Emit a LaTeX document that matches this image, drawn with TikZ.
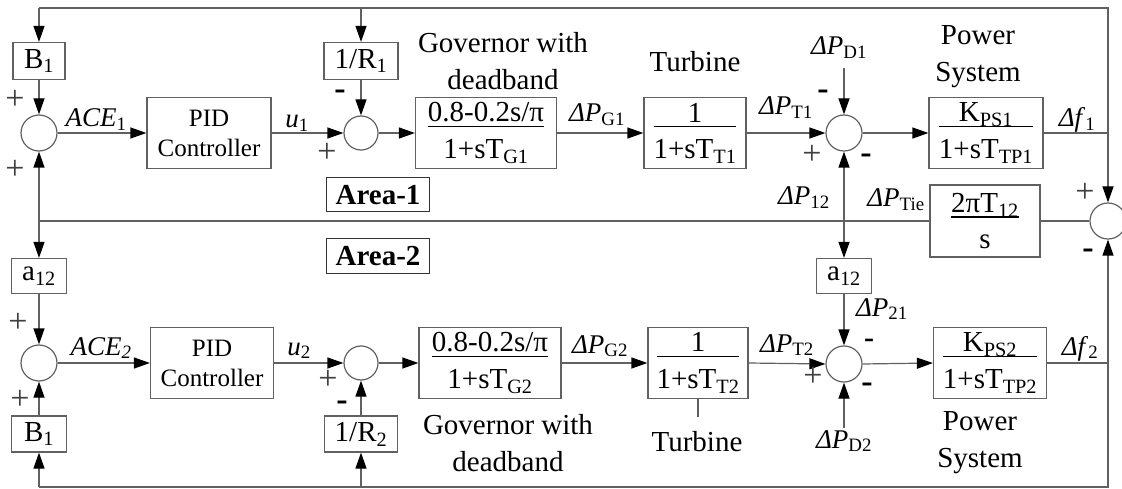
\documentclass[tikz,border=0pt]{standalone}
\usepackage{fontspec}
\setmainfont{Liberation Serif}
\usetikzlibrary{arrows.meta}
\setlength{\arrayrulewidth}{1.3pt}
\newcommand{\fr}[2]{{\renewcommand{\arraystretch}{0}\begin{tabular}{@{}c@{}}\raisebox{0pt}[\height][4pt]{#1}\\\hline\rule{0pt}{31pt}#2\end{tabular}}}
\newcommand{\dP}[1]{\textit{ΔP}\textsubscript{#1}}
\definecolor{lc}{gray}{0.38}
\tikzset{
  ln/.style={draw=lc, line width=1.2pt},
  arr/.style={ln, -{Triangle[length=16pt,width=11pt,color=black]}},
  blk/.style={draw=lc, line width=1.2pt, inner sep=0pt, align=center, font=\fontsize{29}{33}\selectfont},
  sumc/.style={circle, draw=lc, line width=1.2pt, minimum size=36pt, inner sep=0pt},
  lbl/.style={font=\fontsize{27}{30}\selectfont, inner sep=0pt},
  txt/.style={font=\fontsize{29}{37}\selectfont, align=center, inner sep=0pt},
  pls/.style={font=\fontsize{34}{36}\selectfont, inner sep=0pt, text=black!75},
  mns/.style={font=\fontsize{34}{36}\bfseries\selectfont, inner sep=0pt},
  areab/.style={draw=black!80, line width=1pt, inner sep=0pt, minimum width=103pt, minimum height=34pt, font=\fontsize{29}{31}\bfseries\selectfont}
}
\begin{document}
\begin{tikzpicture}[x=1pt,y=-1pt]
\useasboundingbox (0,0) rectangle (1122,489);

% ---------------- Area 1 ----------------
\node[blk, minimum width=52pt, minimum height=37pt] (B1) at (39,61) {B\textsubscript{1}};
\node[sumc] (s1) at (39,133) {};
\node[blk, minimum width=124pt, minimum height=71pt, font=\fontsize{25}{30}\selectfont] (pid1) at (209,133) {PID\\Controller};
\node[sumc, minimum size=34pt] (s2) at (361,133) {};
\node[blk, minimum width=74pt, minimum height=37pt] (R1) at (361,61) {1/R\textsubscript{1}};
\node[blk, minimum width=141pt, minimum height=71pt] (g1) at (486,133) {\fr{0.8-0.2s/π}{1+sT\textsubscript{G1}}};
\node[blk, minimum width=102pt, minimum height=71pt] (t1) at (695,133) {\fr{1}{1+sT\textsubscript{T1}}};
\node[sumc] (s3) at (844,133) {};
\node[blk, minimum width=114pt, minimum height=71pt] (p1) at (986,133) {\fr{K\textsubscript{PS1}}{1+sT\textsubscript{TP1}}};

\node[txt] (gt1) at (503,61) {Governor with\\deadband};
\node[txt] (tt1) at (695,62) {Turbine};
\node[txt] (pt1) at (978,57) {Power\\System};

% ---------------- Tie line ----------------
\node[sumc] (s5) at (1108,221) {};
\node[blk, minimum width=110pt, minimum height=72pt] (tie) at (985,221) {\fr{2πT\textsubscript{12}}{s}};
\node[areab] (ar1) at (378,195) {Area-1};
\node[areab] (ar2) at (378,256) {Area-2};

% ---------------- Area 2 ----------------
\node[blk, minimum width=55pt, minimum height=35pt] (a1) at (39,276) {a\textsubscript{12}};
\node[sumc] (s4) at (39,363) {};
\node[blk, minimum width=55pt, minimum height=36pt] (B2) at (39,434) {B\textsubscript{1}};
\node[blk, minimum width=123pt, minimum height=71pt, font=\fontsize{25}{30}\selectfont] (pid2) at (212,363) {PID\\Controller};
\node[sumc, minimum size=34pt] (s6) at (361,363) {};
\node[blk, minimum width=73pt, minimum height=36pt] (R2) at (361,434) {1/R\textsubscript{2}};
\node[blk, minimum width=142pt, minimum height=71pt] (g2) at (490,363) {\fr{0.8-0.2s/π}{1+sT\textsubscript{G2}}};
\node[blk, minimum width=100pt, minimum height=71pt] (t2) at (698,363) {\fr{1}{1+sT\textsubscript{T2}}};
\node[blk, minimum width=55pt, minimum height=35pt] (a2) at (844,276) {a\textsubscript{12}};
\node[sumc] (s7) at (844,364) {};
\node[blk, minimum width=113pt, minimum height=71pt] (p2) at (990,363) {\fr{K\textsubscript{PS2}}{1+sT\textsubscript{TP2}}};

\node[txt] (gt2) at (508,443) {Governor with\\deadband};
\node[txt] (tt2) at (697,442) {Turbine};
\node[txt] (pt2) at (980,443) {Power\\System};

% ---------------- coordinates ----------------
\coordinate (jr1) at (1108,133);
\coordinate (tr) at (1108,8);
\coordinate (tl) at (39,8);
\coordinate (tm) at (361,8);
\coordinate (jl) at (39,221);
\coordinate (jm) at (844,221);
\coordinate (jr2) at (1108,363);
\coordinate (br) at (1108,487);
\coordinate (bl) at (39,487);
\coordinate (bm) at (361,487);
\coordinate (d1) at (844,68);
\coordinate (d2) at (844,428);
\coordinate (tk) at (698,417);

% ---------------- connectors area 1 ----------------
\draw[ln] (p1.east) -- (jr1) -- (tr) -- (tl);
\draw[arr] (tl) -- (B1.north);
\draw[arr] (tm) -- (R1.north);
\draw[arr] (jr1) -- (s5.north);
\draw[arr] (B1.south) -- (s1.north);
\draw[arr] (R1.south) -- (s2.north);
\draw[arr] (s1.east) -- (pid1.west);
\draw[arr] (pid1.east) -- (s2.west);
\draw[arr] (s2.east) -- (g1.west);
\draw[arr] (g1.east) -- (t1.west);
\draw[arr] (t1.east) -- (s3.west);
\draw[arr] (s3.east) -- (p1.west);
\draw[arr] (d1) -- (s3.north);

% ---------------- tie connectors ----------------
\draw[ln] (s5.west) -- (tie.east);
\draw[ln] (tie.west) -- (jl);
\draw[arr] (jl) -- (s1.south);
\draw[arr] (jl) -- (a1.north);
\draw[arr] (jm) -- (s3.south);
\draw[arr] (jm) -- (a2.north);

% ---------------- connectors area 2 ----------------
\draw[ln] (p2.east) -- (jr2) -- (br) -- (bl);
\draw[arr] (bl) -- (B2.south);
\draw[arr] (bm) -- (R2.south);
\draw[arr] (jr2) -- (s5.south);
\draw[arr] (a1.south) -- (s4.north);
\draw[arr] (B2.north) -- (s4.south);
\draw[arr] (R2.north) -- (s6.south);
\draw[arr] (s4.east) -- (pid2.west);
\draw[arr] (pid2.east) -- (s6.west);
\draw[arr] (s6.east) -- (g2.west);
\draw[arr] (g2.east) -- (t2.west);
\draw[arr] (t2.east) -- (s7.west);
\draw[arr] (s7.east) -- (p2.west);
\draw[arr] (a2.south) -- (s7.north);
\draw[arr] (d2) -- (s7.south);
\draw[ln] (t2.south) -- (tk);

% ---------------- signal labels ----------------
\node[lbl, anchor=base] at (96,127) {\textit{ACE}\textsubscript{1}};
\node[lbl, anchor=base] at (297,128) {\textit{u}\textsubscript{1}};
\node[lbl, anchor=base] at (597,122) {\dP{G1}};
\node[lbl, anchor=base] at (786,115) {\dP{T1}};
\node[lbl, anchor=base] at (839,55) {\dP{D1}};
\node[lbl, anchor=base] at (1077,127) {\textit{Δf}\textsubscript{1}};
\node[lbl, anchor=base] at (804,205) {\dP{12}};
\node[lbl, anchor=base] at (896,207) {\dP{Tie}};

\node[lbl, anchor=base] at (101,355) {\textit{ACE}\textsubscript{\textit{2}}};
\node[lbl, anchor=base] at (299,355) {\textit{u}\textsubscript{2}};
\node[lbl, anchor=base] at (600,353) {\dP{G2}};
\node[lbl, anchor=base] at (787,352) {\dP{T2}};
\node[lbl, anchor=base] at (882,316) {\dP{21}};
\node[lbl, anchor=base] at (844,448) {\dP{D2}};
\node[lbl, anchor=base] at (1080,355) {\textit{Δf}\textsubscript{2}};

% ---------------- signs ----------------
\node[pls] at (15,100) {+};
\node[pls] at (15,170) {+};
\node[mns] at (340,95) {-};
\node[pls] at (327,153) {+};
\node[mns] at (823,95) {-};
\node[pls] at (812,155) {+};
\node[mns] at (866,159) {-};
\node[pls] at (1085,193) {+};
\node[mns] at (1088,254) {-};

\node[pls] at (18,323) {+};
\node[pls] at (20,400) {+};
\node[pls] at (328,380) {+};
\node[mns] at (342,406) {-};
\node[mns, font=\fontsize{30}{32}\bfseries\selectfont] at (869,343) {-};
\node[pls] at (813,377) {+};
\node[mns] at (867,388) {-};
\end{tikzpicture}
\end{document}
